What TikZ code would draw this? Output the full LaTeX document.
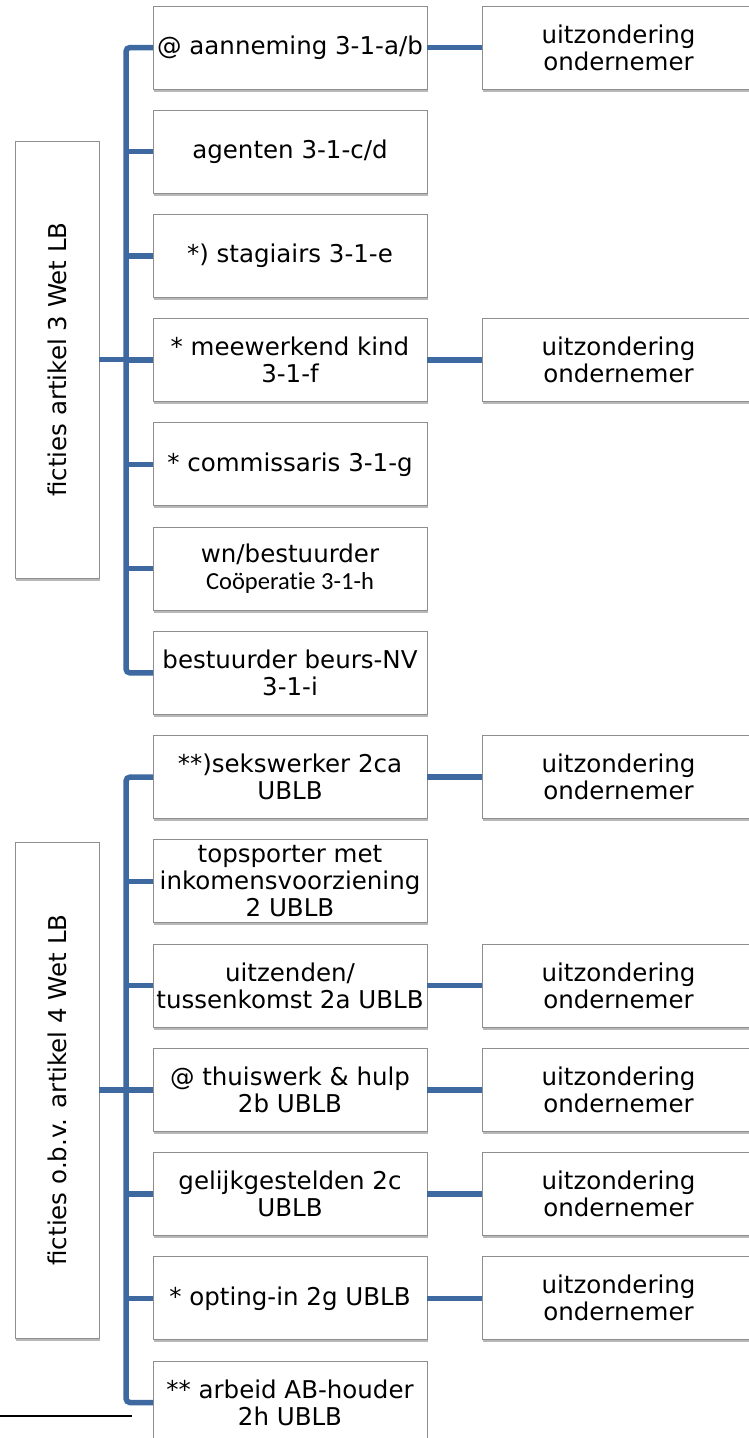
\documentclass[tikz,border=0pt]{standalone}
\usepackage{fontspec}
\newfontfamily\vfont{DejaVu Sans}
\newfontfamily\calfont[Ligatures={NoCommon,NoRare,NoContextual}]{Carlito}
\usetikzlibrary{shadows}
\definecolor{conncol}{HTML}{3E69A0}
\definecolor{boxgray}{HTML}{8E8E8E}
\tikzset{
  box/.style={draw=boxgray, fill=white, line width=1pt, inner sep=0pt, outer sep=0pt,
    align=center, font=\vfont\fontsize{24.5}{27}\selectfont,
    drop shadow={shadow xshift=1.2pt, shadow yshift=-2.5pt, fill=black, opacity=0.28}},
  midbox/.style={box, minimum width=274pt, minimum height=83pt},
  rbox/.style={box, minimum width=273pt, minimum height=83pt},
  leftbox/.style={box, minimum width=84pt},
  vlabel/.style={rotate=90, font=\vfont\fontsize{24.5}{27}\selectfont, inner sep=0pt},
  conn/.style={draw=conncol, line width=5.5pt, rounded corners=4pt}
}
\begin{document}
\begin{tikzpicture}[x=1pt,y=-1pt]
\useasboundingbox (0,0) rectangle (749,1438);
\fill[white] (0,0) rectangle (749,1438);
\coordinate (t) at (126,0);
% left boxes
\node[leftbox, minimum height=437pt] (L1) at (57,359.5) {};
\node[vlabel] at (L1) {ficties artikel 3 Wet LB};
\node[leftbox, minimum height=496pt] (L2) at (57,1090) {};
\node[vlabel] at (L2) {ficties o.b.v. artikel 4 Wet LB};
% middle boxes group 1
\node[midbox] (m1) at (290,47.5) {@ aanneming 3-1-a/b};
\node[midbox] (m2) at (290,151.7) {agenten 3-1-c/d};
\node[midbox] (m3) at (290,256.0) {*) stagiairs 3-1-e};
\node[midbox] (m4) at (290,360.2) {* meewerkend kind\\3-1-f};
\node[midbox] (m5) at (290,464.4) {* commissaris 3-1-g};
\node[midbox] (m6) at (290,568.7) {wn/bestuurder\\{\calfont Coöperat\kern0pt ie 3-1-h}};
\node[midbox] (m7) at (290,672.9) {bestuurder beurs-NV\\3-1-i};
% middle boxes group 2
\node[midbox] (n1) at (290,777.1) {**)sekswerker 2ca\\UBLB};
\node[midbox] (n2) at (290,881.3) {topsporter met\\inkomensvoorziening\\2 UBLB};
\node[midbox] (n3) at (290,985.6) {uitzenden/\\tussenkomst 2a UBLB};
\node[midbox] (n4) at (290,1089.8) {@ thuiswerk \& hulp\\2b UBLB};
\node[midbox] (n5) at (290,1194.0) {gelijkgestelden 2c\\UBLB};
\node[midbox] (n6) at (290,1298.3) {* opting-in 2g UBLB};
\node[midbox] (n7) at (290,1402.5) {** arbeid AB-houder\\2h UBLB};
% right boxes
\node[rbox] (r1) at (618.5,47.5) {uitzondering\\ondernemer};
\node[rbox] (r4) at (618.5,360.2) {uitzondering\\ondernemer};
\node[rbox] (s1) at (618.5,777.1) {uitzondering\\ondernemer};
\node[rbox] (s3) at (618.5,985.6) {uitzondering\\ondernemer};
\node[rbox] (s4) at (618.5,1089.8) {uitzondering\\ondernemer};
\node[rbox] (s5) at (618.5,1194.0) {uitzondering\\ondernemer};
\node[rbox] (s6) at (618.5,1298.3) {uitzondering\\ondernemer};
% connectors group 1
\draw[conn] (m1.west) -- (m1.west -| t) -- (m7.west -| t) -- (m7.west);
\foreach \b in {m2,m3,m4,m5,m6} \draw[conn] (\b.west) -- (\b.west -| t);
\draw[conn] (L1.east) -- (L1.east -| t);
% connectors group 2
\draw[conn] (n1.west) -- (n1.west -| t) -- (n7.west -| t) -- (n7.west);
\foreach \b in {n2,n3,n4,n5,n6} \draw[conn] (\b.west) -- (\b.west -| t);
\draw[conn] (L2.east) -- (L2.east -| t);
% right connectors
\draw[conn] (m1.east) -- (r1.west);
\draw[conn] (m4.east) -- (r4.west);
\draw[conn] (n1.east) -- (s1.west);
\draw[conn] (n3.east) -- (s3.west);
\draw[conn] (n4.east) -- (s4.west);
\draw[conn] (n5.east) -- (s5.west);
\draw[conn] (n6.east) -- (s6.west);
% footnote rule
\draw[line width=2pt] (0,1415.7) -- (132,1415.7);
\end{tikzpicture}
\end{document}
